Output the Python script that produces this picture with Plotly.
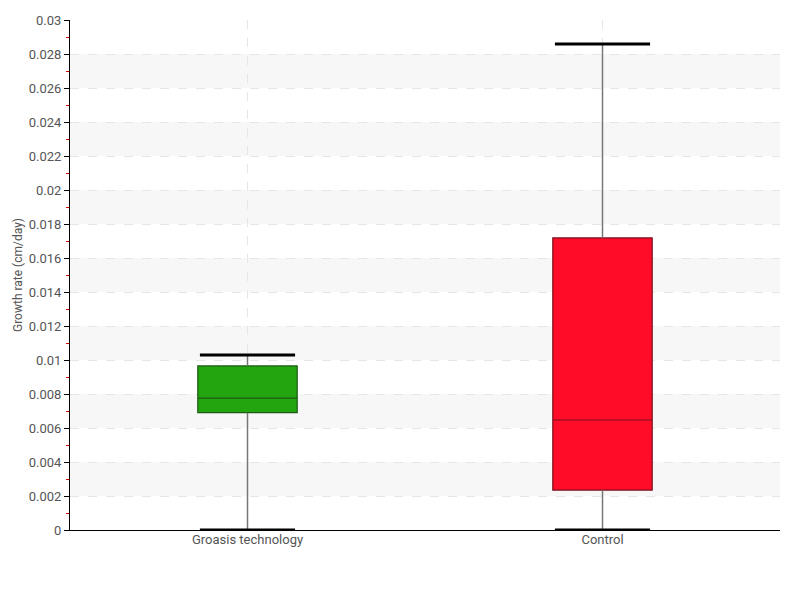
import plotly.graph_objects as go

categories = ["Groasis technology", "Control"]
q1 = [0.0069, 0.00235]
median = [0.00776, 0.00647]
q3 = [0.00965, 0.01718]
lower = [0.0, 0.0]
upper = [0.01029, 0.02859]
fill_colors = ["#22a50f", "#ff0d28"]
line_colors = ["#1c5a12", "#7a0f1c"]
y_ticks = [i * 0.002 for i in range(16)]
y_tick_text = ["0", "0.002", "0.004", "0.006", "0.008", "0.01", "0.012", "0.014",
               "0.016", "0.018", "0.02", "0.022", "0.024", "0.026", "0.028", "0.03"]

FONT = "Roboto, sans-serif"
fig = go.Figure()

for i, cat in enumerate(categories):
    fig.add_trace(go.Box(
        x=[i], q1=[q1[i]], median=[median[i]], q3=[q3[i]],
        lowerfence=[q1[i]], upperfence=[q3[i]],
        width=0.28, whiskerwidth=0,
        fillcolor=fill_colors[i], line=dict(color=line_colors[i], width=1.2),
        boxpoints=False, name=cat, showlegend=False, hoverinfo="skip",
    ))
    # whiskers
    fig.add_trace(go.Scatter(
        x=[i, i], y=[q3[i], upper[i]], mode="lines",
        line=dict(color="#777777", width=1.5), showlegend=False, hoverinfo="skip"))
    fig.add_trace(go.Scatter(
        x=[i, i], y=[lower[i], q1[i]], mode="lines",
        line=dict(color="#777777", width=1.5), showlegend=False, hoverinfo="skip"))
    # caps
    for v in (upper[i], lower[i]):
        fig.add_trace(go.Scatter(
            x=[i - 0.134, i + 0.134], y=[v, v], mode="lines",
            line=dict(color="#000000", width=3), showlegend=False, hoverinfo="skip"))

shapes = []
for k in range(1, 15, 2):
    shapes.append(dict(type="rect", xref="paper", yref="y", x0=0, x1=1,
                       y0=y_ticks[k], y1=y_ticks[k + 1],
                       fillcolor="#f7f7f7", line=dict(width=0), layer="below"))

fig.update_layout(
    width=800, height=600,
    margin=dict(l=62, r=28, t=12, b=78, autoexpand=False),
    paper_bgcolor="white", plot_bgcolor="white",
    font=dict(family=FONT, color="#555555", size=13),
    shapes=shapes,
    showlegend=False,
)
fig.update_xaxes(
    range=[-0.5, 1.5], tickvals=[0, 1], ticktext=categories,
    showgrid=True, gridcolor="#e6e6e6", griddash="dash", gridwidth=1,
    showline=True, linecolor="#000000", linewidth=1,
    ticks="", ticklen=0, ticklabelstandoff=-3, zeroline=False,
    tickfont=dict(size=13, color="#555555"),
)
fig.update_yaxes(
    range=[0, 0.03], tickvals=y_ticks, ticktext=y_tick_text,
    showgrid=True, gridcolor="#e6e6e6", griddash="dash", gridwidth=1,
    showline=True, linecolor="#000000", linewidth=1,
    ticks="outside", ticklen=5, tickcolor="#000000",
    minor=dict(tickvals=[0.001 + i * 0.002 for i in range(15)], ticks="outside",
               ticklen=3, tickcolor="#dd0000", showgrid=False),
    zeroline=False, tickfont=dict(size=13, color="#555555"),
    title=dict(text="Growth rate (cm/day)", font=dict(size=12, color="#555555"), standoff=3),
)

fig.write_html("out.html")
